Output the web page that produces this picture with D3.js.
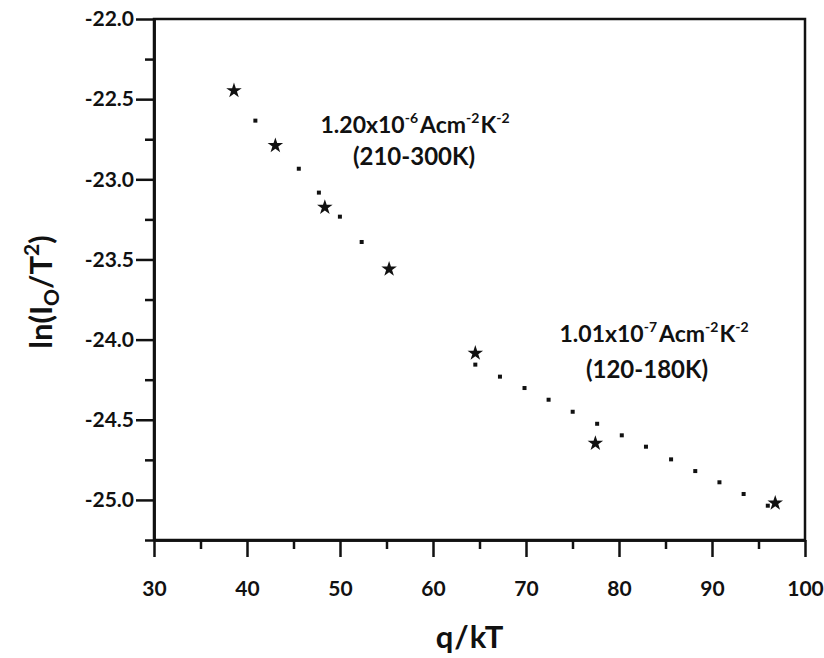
<!DOCTYPE html>
<html>
<head>
<meta charset="utf-8">
<script src="https://cdn.jsdelivr.net/npm/d3@7"></script>
<style>
  html, body { margin: 0; padding: 0; background: #fff; }
  text { font-family: Lato, "Open Sans", sans-serif; fill: #111; }
</style>
</head>
<body>
<svg id="chart" width="824" height="658"></svg>
<script>
// ---- data ----
const starX = [38.6, 43.05, 48.37, 55.28, 64.55, 77.46, 96.8];
const starY = [-22.447, -22.79, -23.175, -23.56, -24.085, -24.647, -25.02];

const fitHighX = [40.9, 45.57, 47.73, 49.99, 52.33];
const fitHighY = [-22.634, -22.934, -23.083, -23.233, -23.391];

const fitLowX = [64.55, 67.2, 69.84, 72.43, 75.02, 77.65, 80.3, 82.9, 85.6, 88.2, 90.8, 93.4, 96.0];
const fitLowY = [-24.156, -24.231, -24.302, -24.375, -24.45, -24.525, -24.597, -24.668, -24.747, -24.82, -24.89, -24.963, -25.036];

const xMajorTicks = [30, 40, 50, 60, 70, 80, 90, 100];
const xMinorTicks = [35, 45, 55, 65, 75, 85, 95];
const yMajorTicks = [-22.0, -22.5, -23.0, -23.5, -24.0, -24.5, -25.0];
const yMinorTicks = [-22.25, -22.75, -23.25, -23.75, -24.25, -24.75, -25.25];

const xDomain = [30, 100];
const yDomain = [-25.25, -22.0];

// ---- layout ----
const svg = d3.select("#chart");
const mLeft = 154, mRight = 805, mTop = 19, mBottom = 540;

const x = d3.scaleLinear().domain(xDomain).range([mLeft, mRight]);
const y = d3.scaleLinear().domain(yDomain).range([mBottom, mTop]);

// frame
svg.append("rect")
  .attr("x", mLeft).attr("y", mTop)
  .attr("width", mRight - mLeft).attr("height", mBottom - mTop)
  .attr("fill", "none").attr("stroke", "#111").attr("stroke-width", 2.5);

// x axis
const gx = svg.append("g").attr("transform", `translate(0,${mBottom})`);
const gxMaj = gx.append("g").call(d3.axisBottom(x).tickValues(xMajorTicks).tickSize(17).tickSizeOuter(0).tickFormat(d3.format("d")).tickPadding(24));
gx.append("g").call(d3.axisBottom(x).tickValues(xMinorTicks).tickSize(9).tickSizeOuter(0).tickFormat(""));
gx.selectAll(".domain").attr("stroke", "#111").attr("stroke-width", 2.5);
gx.selectAll(".tick line").attr("stroke", "#111").attr("stroke-width", 2.5);
gxMaj.selectAll(".tick text").attr("font-size", 21).attr("font-weight", "bold")
  .attr("font-family", "Lato, sans-serif").attr("fill", "#111");

// y axis
const gy = svg.append("g").attr("transform", `translate(${mLeft},0)`);
const gyMaj = gy.append("g").call(d3.axisLeft(y).tickValues(yMajorTicks).tickSize(18).tickSizeOuter(0).tickFormat(d => d3.format(".1f")(d).replace("\u2212", "-")).tickPadding(2));
gy.append("g").call(d3.axisLeft(y).tickValues(yMinorTicks).tickSize(9).tickSizeOuter(0).tickFormat(""));
gy.selectAll(".domain").attr("stroke", "#111").attr("stroke-width", 2.5);
gy.selectAll(".tick line").attr("stroke", "#111").attr("stroke-width", 2.5);
gyMaj.selectAll(".tick text").attr("font-size", 21).attr("font-weight", "bold")
  .attr("font-family", "Lato, sans-serif").attr("fill", "#111");

// fit-line dots
const dotSize = 4;
const dots = [];
fitHighX.forEach((v, i) => dots.push([v, fitHighY[i]]));
fitLowX.forEach((v, i) => dots.push([v, fitLowY[i]]));
svg.append("g").selectAll("rect").data(dots).join("rect")
  .attr("x", d => x(d[0]) - dotSize / 2)
  .attr("y", d => y(d[1]) - dotSize / 2)
  .attr("width", dotSize).attr("height", dotSize)
  .attr("fill", "#111");

// star markers
const star = d3.symbol().type(d3.symbolStar).size(75);
svg.append("g").selectAll("path").data(starX.map((v, i) => [v, starY[i]])).join("path")
  .attr("d", star)
  .attr("transform", d => `translate(${x(d[0])},${y(d[1])})`)
  .attr("fill", "#111");

// annotations
function annot(cx1, cx2, by1, by2, mant, exp, range) {
  const t = svg.append("text").attr("x", cx1).attr("y", by1)
    .attr("text-anchor", "middle").attr("font-size", 23).attr("font-weight", "bold");
  t.append("tspan").text(mant);
  t.append("tspan").attr("dy", -10).attr("font-size", 14).text(exp);
  t.append("tspan").attr("dy", 10).attr("dx", 2).text("Acm");
  t.append("tspan").attr("dy", -10).attr("font-size", 14).text("-2");
  t.append("tspan").attr("dy", 10).attr("dx", 1).text("K");
  t.append("tspan").attr("dy", -10).attr("font-size", 14).text("-2");
  svg.append("text").attr("x", cx2).attr("y", by2)
    .attr("text-anchor", "middle").attr("font-size", 24).attr("font-weight", "bold")
    .text(range);
}
annot(415, 414, 133, 165, "1.20x10", "-6", "(210-300K)");
annot(654, 647, 342, 378, "1.01x10", "-7", "(120-180K)");

// axis titles
svg.append("text").attr("x", 470).attr("y", 648)
  .attr("text-anchor", "middle").attr("font-size", 31).attr("font-weight", "bold")
  .attr("letter-spacing", 1)
  .text("q/kT");

const yt = svg.append("text").attr("transform", "translate(52,292) rotate(-90)")
  .attr("text-anchor", "middle").attr("font-size", 31).attr("font-weight", "bold");
yt.append("tspan").text("ln(I");
yt.append("tspan").attr("dy", 7).attr("font-size", 21).text("O");
yt.append("tspan").attr("dy", -7).text("/T");
yt.append("tspan").attr("dy", -13).attr("font-size", 21).text("2");
yt.append("tspan").attr("dy", 13).text(")");
</script>
</body>
</html>
